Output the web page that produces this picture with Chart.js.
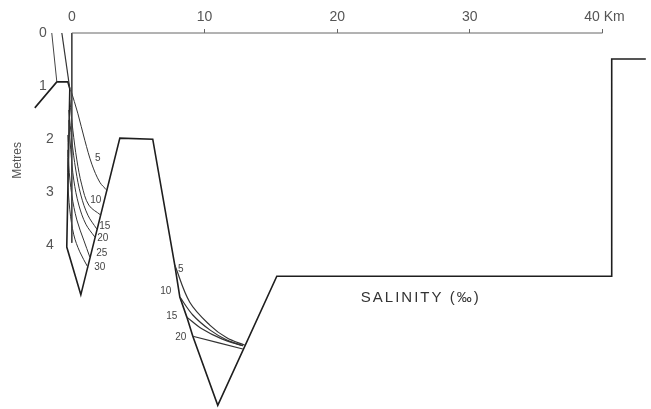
<!DOCTYPE html>
<html>
<head>
<meta charset="utf-8">
<script src="https://cdn.jsdelivr.net/npm/chart.js@4"></script>
<style>
  html, body { margin: 0; padding: 0; background: #fff; }
  canvas { display: block; }
</style>
</head>
<body>
<canvas id="profile" width="651" height="409"></canvas>
<script>
// ── Data: [distance km, depth m] ─────────────────────────────
const KM_TICKS    = [0, 10, 20, 30, 40];
const DEPTH_OUTER = [0, 1];
const DEPTH_INNER = [2, 3, 4];

const bottom = [
  [-2.79, 1.41], [-1.13, 0.92], [-0.30, 0.92], [-0.15, 1.05], [-0.38, 4.03],
  [0.68, 4.93], [3.62, 1.98], [6.10, 2.00], [7.76, 4.37], [8.14, 4.97],
  [8.67, 5.35], [9.12, 5.71], [11.00, 7.01], [15.45, 4.58], [40.69, 4.58],
  [40.69, 0.49], [43.26, 0.49],
];
const surface   = [[0, 0], [40, 0]];
const stationA  = [[0, 0], [0, 3.95]];
const zeroLeft  = [[-1.51, 0], [-1.13, 0.92]];
const zeroRight = [[-0.75, 0], [-0.15, 1.05]];

// isohalines in the first channel
const up5  = [[-0.08, 1.07], [0.45, 1.51], [0.98, 2.02], [1.51, 2.47], [2.11, 2.81], [2.64, 2.96]];
const up10 = [[-0.15, 1.26], [0.08, 1.83], [0.38, 2.39], [0.75, 2.86], [1.28, 3.24], [2.19, 3.43]];
const up15 = [[-0.23, 1.45], [0.00, 2.02], [0.30, 2.58], [0.68, 3.05], [1.21, 3.43], [1.88, 3.69]];
const up20 = [[-0.23, 1.64], [-0.08, 2.20], [0.15, 2.77], [0.53, 3.24], [1.06, 3.60], [1.73, 3.84]];
const up25 = [[-0.30, 1.92], [-0.23, 2.49], [0.00, 3.05], [0.38, 3.52], [0.90, 3.90], [1.36, 4.22]];
const up30 = [[-0.30, 2.20], [-0.30, 2.77], [-0.15, 3.33], [0.15, 3.80], [0.60, 4.12], [1.21, 4.41]];

// isohalines in the second channel
const lo5  = [[7.76, 4.37], [8.89, 5.07], [10.40, 5.50], [11.68, 5.74], [13.04, 5.88]];
const lo10 = [[8.14, 4.97], [9.12, 5.31], [10.40, 5.59], [11.68, 5.78], [12.89, 5.89]];
const lo15 = [[8.67, 5.35], [9.80, 5.57], [11.30, 5.76], [12.89, 5.89]];
const lo20 = [[9.12, 5.71], [12.89, 5.95]];

const upLabels = ['5', '10', '15', '20', '25', '30'];
const upLabelKm = [1.96, 1.81, 2.49, 2.34, 2.26, 2.11];
const upLabelM  = [2.35, 3.14, 3.63, 3.86, 4.14, 4.41];
const loLabels = ['5', '10', '15', '20'];
const loLabelKm = [8.21, 7.08, 7.54, 8.21];
const loLabelM  = [4.44, 4.86, 5.33, 5.72];
const captionText = 'SALINITY (‰)';
const captionAt   = [26.3, 4.99];

// ── Build ────────────────────────────────────────────────────
const pts = arr => arr.map(([x, y]) => ({ x, y }));
const line = (arr, color, width, tension = 0) => ({
  data: pts(arr), showLine: true, borderColor: color, borderWidth: width,
  pointRadius: 0, tension, clip: false, fill: false,
});

const INK  = '#1e1e1e';
const THIN = '#333';
const FONT = '"Liberation Sans", Arial, sans-serif';

const datasets = [
  line(surface, '#666', 1),
  line(stationA, '#444', 1),
  line(zeroLeft, '#444', 1),
  line(zeroRight, '#333', 1.2),
  ...[up5, up10, up15, up20, up25, up30].map(a => line(a, THIN, 1, 0.35)),
  ...[lo5, lo10, lo15, lo20].map(a => line(a, THIN, 1.2, 0.35)),
  line(bottom, INK, 1.6),
];

const annotate = {
  id: 'annotate',
  afterDatasetsDraw(chart) {
    const { ctx, scales: { x, y } } = chart;
    ctx.save();
    ctx.textAlign = 'center';
    ctx.textBaseline = 'middle';
    ctx.fillStyle = '#444';
    ctx.font = `10px ${FONT}`;
    upLabels.forEach((t, i) => ctx.fillText(t, x.getPixelForValue(upLabelKm[i]), y.getPixelForValue(upLabelM[i])));
    loLabels.forEach((t, i) => ctx.fillText(t, x.getPixelForValue(loLabelKm[i]), y.getPixelForValue(loLabelM[i])));

    ctx.fillStyle = '#333';
    ctx.font = `15px ${FONT}`;
    ctx.letterSpacing = '2px';
    ctx.fillText(captionText, x.getPixelForValue(captionAt[0]), y.getPixelForValue(captionAt[1]));
    ctx.letterSpacing = '0px';

    ctx.fillStyle = '#555';
    ctx.font = `12px ${FONT}`;
    ctx.translate(x.left - 14, y.getPixelForValue(2.4));
    ctx.rotate(-Math.PI / 2);
    ctx.fillText('Metres', 0, 0);
    ctx.restore();
  },
};

const noPad = s => { s.paddingTop = 0; s.paddingBottom = 0; s.paddingLeft = 0; s.paddingRight = 0; };

const depthAxis = (ticks, weight, width, padding) => ({
  type: 'linear', position: 'left', reverse: true, min: 0, max: 7.08, weight,
  afterBuildTicks: s => { s.ticks = ticks.map(v => ({ value: v })); },
  afterFit: s => { s.width = width; noPad(s); },
  grid: { display: false, drawTicks: false },
  border: { display: false },
  ticks: { mirror: true, padding, color: '#555', font: { family: FONT, size: 14 } },
});

new Chart(document.getElementById('profile'), {
  type: 'scatter',
  data: { datasets },
  options: {
    responsive: false, animation: false, devicePixelRatio: 1,
    layout: { padding: { right: 2, left: 0, top: 0, bottom: 0 } },
    plugins: { legend: { display: false }, tooltip: { enabled: false } },
    scales: {
      x: {
        type: 'linear', position: 'top', min: -3, max: 43.5,
        afterBuildTicks: s => { s.ticks = KM_TICKS.map(v => ({ value: v })); },
        afterFit: s => { s.height = 33; noPad(s); },
        border: { display: false },
        grid: {
          drawOnChartArea: false, drawTicks: true, tickLength: 4, lineWidth: 1,
          color: c => (c.tick && c.tick.value === 0) ? 'rgba(0,0,0,0)' : '#666',
        },
        ticks: {
          callback: v => v === 40 ? ' 40 Km' : String(v),
          color: '#555', font: { family: FONT, size: 14 }, padding: 3,
          maxRotation: 0, autoSkip: false,
        },
      },
      y:  depthAxis(DEPTH_OUTER, 1, 32, 7),
      y2: depthAxis(DEPTH_INNER, 0, 0, 14),
    },
  },
  plugins: [annotate],
});
</script>
</body>
</html>
